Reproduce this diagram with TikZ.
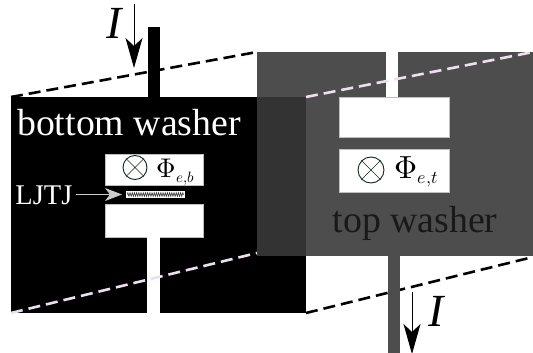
\documentclass[tikz,border=0pt]{standalone}
\usepackage{fontspec}
\usepackage{unicode-math}
\setmainfont{Liberation Serif}
\setmathfont{Latin Modern Math}
\usetikzlibrary{arrows.meta,decorations.pathmorphing}
\definecolor{topgray}{HTML}{4D4D4D}
\definecolor{overlapgray}{HTML}{333333}
\definecolor{lightdash}{HTML}{EEDFEE}
\definecolor{ringgreen}{HTML}{0F2A1A}
\tikzset{
  washerlabel/.style={inner sep=0pt,font=\fontsize{37.8}{38}\selectfont},
  hole/.style={fill=white,draw=black!25,line width=0.5pt},
  edgedash/.style={line width=2.6pt,dash pattern=on 12pt off 6pt},
  currentarrow/.style={line width=0.9pt,-{Stealth[length=30pt,width=17pt,inset=8pt]}},
  flux/.style={inner sep=0pt,anchor=base west},
  ring/.style={circle,draw=ringgreen,line width=0.9pt,inner sep=0pt,minimum size=#1},
  currentlabel/.style={inner sep=0pt,font=\fontsize{46}{46}\selectfont\itshape,anchor=base},
}
\newcommand{\fluxsym}[5]{{\fontsize{#1}{#1}\selectfont$\Phi$}\kern#3pt\raisebox{#4pt}{\fontsize{#2}{#2}\selectfont$#5$}}
\begin{document}
\begin{tikzpicture}[x=1pt,y=-1pt]
\useasboundingbox (0,0) rectangle (533,353);
\draw[edgedash,black] (11,97) -- (257,52);
\fill[black] (11,97) rectangle (306,313);
\fill[black] (148,27) rectangle (160,97);
\fill[hole] (105,154) rectangle (203,185);
\fill[hole] (105,204) rectangle (203,237);
\fill[white] (147,237) rectangle (160,313.5);
\fill[topgray] (257,52) rectangle (533,256);
\fill[overlapgray] (257,97) rectangle (306,256);
\fill[white] (385.5,52) rectangle (398,97);
\fill[hole] (339,97) rectangle (449,137);
\fill[hole] (339,149) rectangle (449,192);
\draw[edgedash,black] (306,313) -- (533,257);
\fill[topgray] (388,256) rectangle (400,353);
\draw[edgedash,lightdash] (306,97) -- (533,52);
\draw[edgedash,lightdash] (11,313) -- (257,253);
\node[washerlabel,white,anchor=base] (bw) at (129,135) {bottom washer};
\node[washerlabel,black!90,anchor=base] (tw) at (415,232) {top washer};
\node[inner sep=0pt,font=\fontsize{28.5}{28}\selectfont,white,anchor=base] (lj) at (44,204) {LJTJ};
\node[fill=white,inner sep=0pt,minimum width=59pt,minimum height=7.5pt] (jj) at (155.5,194.5) {};
\draw[black!80,line width=0.6pt,decorate,decoration={zigzag,segment length=2.2pt,amplitude=1.8pt}] ([xshift=1.5pt]jj.west) -- ([xshift=-1.5pt]jj.east);
\draw[line width=1pt,white!80!black,-{Stealth[length=17pt,width=13pt,inset=5pt]}] (76,194.5) -- (122,194.5);
\node[ring=24pt] (rb) at (135,167.5) {};
\draw[ringgreen,line width=0.7pt] (rb.north west) -- (rb.south east) (rb.north east) -- (rb.south west);
\node[flux] (pb) at (156.5,177) {\fluxsym{27}{15}{0}{-5}{e{,}b}};
\node[ring=26pt] (rt) at (371,170) {};
\draw[ringgreen,line width=0.7pt] (rt.north west) -- (rt.south east) (rt.north east) -- (rt.south west);
\node[flux] (pt) at (394.5,178) {\fluxsym{32}{18}{0}{-5}{e{,}t}};
\coordinate (a1) at (134,4); \coordinate (a2) at (134,68);
\draw[currentarrow] (a1) -- (a2);
\coordinate (b1) at (412,292); \coordinate (b2) at (412,354);
\draw[currentarrow] (b1) -- (b2);
\node[currentlabel] (i1) at (114,39) {I};
\node[currentlabel] (i2) at (436,326) {I};
\end{tikzpicture}
\end{document}
